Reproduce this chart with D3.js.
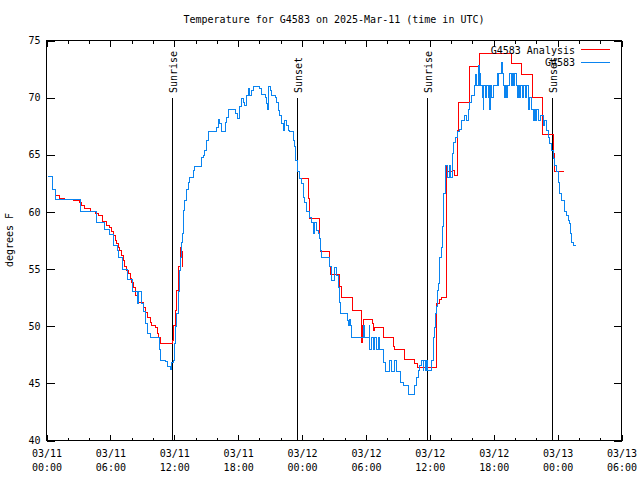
<!DOCTYPE html>
<html><head><meta charset="utf-8">
<script src="https://cdn.jsdelivr.net/npm/d3@7"></script>
<style>
body{margin:0;background:#fff}
svg{display:block}
text{font-family:"DejaVu Sans Mono","Liberation Mono",monospace;font-size:10px;fill:#000}
</style>
</head><body><svg id="c" width="640" height="480"></svg>
<script>
const title = "Temperature for G4583 on 2025-Mar-11 (time in UTC)";
const yLabel = "degrees F";
const seriesNames = ["G4583 Analysis", "G4583"];
const seriesColors = ["#ff0000", "#0a84f0"];
const startTime = "2025-03-11T00:00:00Z";
const endTime = "2025-03-13T06:00:00Z";
const yDomain = [40, 75];
const yTicks = [40, 45, 50, 55, 60, 65, 70, 75];
const sunEvents = [["Sunrise", 11.76], ["Sunset", 23.52], ["Sunrise", 35.76], ["Sunset", 47.49]];

// [hours since start, degrees F]
const observed = [[0.17,63.1],[0.58,62.0],[0.8,61.06],[3.15,60.0],[4.71,59.1],[5.49,58.5],[5.96,58.0],[6.27,57.06],[6.65,56.6],[6.78,56.0],[7.14,55.0],[7.56,54.1],[8.09,53.0],[8.5,52.0],[8.6,53.0],[8.94,52.0],[9.09,51.3],[9.34,50.2],[9.53,49.4],[9.72,49.0],[10.59,48.0],[10.72,47.0],[11.13,46.9],[11.41,46.5],[11.6,46.2],[11.78,46.8],[11.9,47.0],[12.02,48.5],[12.11,50.0],[12.23,51.1],[12.35,53.0],[12.47,54.9],[12.58,56.0],[12.69,57.3],[12.79,58.1],[12.85,59.5],[12.91,60.1],[13.0,61.0],[13.16,62.0],[13.31,62.6],[13.47,63.0],[13.78,63.6],[13.94,64.0],[14.57,64.8],[14.72,64.9],[14.88,65.4],[15.04,66.25],[15.19,67.0],[15.98,67.4],[16.13,68.06],[16.29,67.7],[16.45,67.06],[16.83,67.85],[16.92,68.3],[17.07,69.0],[17.79,68.6],[17.92,68.15],[18.08,68.6],[18.17,69.2],[18.33,69.9],[18.5,69.6],[18.64,69.3],[18.8,70.2],[18.95,70.8],[19.11,70.2],[19.27,70.6],[19.42,71.0],[20.05,70.8],[20.21,70.3],[20.52,70.0],[20.68,69.5],[20.73,69.0],[20.83,71.0],[20.99,70.6],[21.15,70.2],[21.46,70.0],[21.62,69.6],[21.77,68.9],[21.92,68.4],[22.08,67.7],[22.23,67.1],[22.39,68.0],[22.55,67.6],[22.7,67.1],[22.86,67.0],[23.24,66.25],[23.33,65.7],[23.43,64.5],[23.55,63.5],[23.8,62.9],[23.96,62.5],[24.11,61.3],[24.27,60.85],[24.43,60.0],[24.74,59.5],[24.9,59.1],[25.05,58.1],[25.21,59.1],[25.31,58.4],[25.52,58.1],[25.68,57.65],[25.75,56.6],[25.84,56.0],[26.62,55.2],[26.78,54.0],[27.09,55.1],[27.25,54.4],[27.4,53.4],[27.49,52.1],[27.65,51.1],[28.28,50.5],[28.34,50.06],[28.45,50.6],[28.54,50.06],[28.66,49.04],[29.75,50.1],[29.86,49.04],[30.31,50.1],[30.38,48.0],[30.54,49.04],[30.69,48.0],[30.85,49.04],[31.0,48.0],[31.15,49.0],[31.31,48.0],[31.69,46.85],[31.88,46.0],[32.25,47.0],[32.41,46.0],[32.72,47.0],[32.88,46.0],[33.26,45.1],[33.57,44.8],[33.97,44.0],[34.53,44.8],[34.76,45.5],[34.91,46.1],[35.07,46.6],[35.23,47.0],[35.38,46.15],[35.45,47.0],[35.59,46.15],[35.73,47.0],[35.82,46.15],[36.17,47.0],[36.32,48.0],[36.38,49.0],[36.48,49.9],[36.57,51.1],[36.64,51.7],[36.7,53.1],[36.79,53.7],[36.88,56.0],[37.11,56.9],[37.2,58.7],[37.32,61.6],[37.45,63.3],[37.51,64.06],[37.7,63.04],[37.82,64.06],[37.93,63.04],[38.1,65.1],[38.2,65.7],[38.26,66.1],[38.45,66.5],[38.57,67.0],[38.83,67.2],[38.99,68.0],[39.3,68.4],[39.45,68.0],[39.61,69.0],[39.77,69.6],[39.92,70.2],[40.23,71.06],[40.33,72.0],[40.42,71.06],[40.55,72.8],[40.64,71.06],[40.7,72.1],[40.8,71.06],[40.94,70.04],[41.01,69.0],[41.08,71.06],[41.22,70.04],[41.36,71.06],[41.48,70.04],[41.58,71.06],[41.62,69.0],[41.69,71.06],[41.83,70.04],[41.95,71.06],[42.33,72.1],[42.43,71.06],[42.49,72.1],[42.74,73.1],[42.84,72.1],[42.96,71.06],[43.05,70.04],[43.15,71.06],[43.24,70.04],[43.33,71.06],[43.52,72.1],[43.68,71.06],[43.77,72.1],[43.9,71.06],[43.99,72.1],[44.15,71.06],[44.23,70.04],[44.32,71.06],[44.46,70.04],[44.55,71.06],[44.69,70.04],[44.84,71.06],[44.98,70.04],[45.12,71.06],[45.24,69.0],[45.4,70.04],[45.56,69.0],[45.71,68.0],[45.82,69.0],[45.96,68.0],[46.06,69.0],[46.18,68.0],[46.43,68.4],[46.65,67.56],[46.76,68.0],[46.97,67.1],[47.12,66.5],[47.28,66.0],[47.44,65.4],[47.59,64.65],[47.75,64.06],[47.91,63.5],[48.06,62.6],[48.22,61.6],[48.38,61.0],[48.62,60.0],[48.85,59.7],[49.0,59.25],[49.16,58.95],[49.22,58.1],[49.34,57.35],[49.46,57.06],[49.69,57.06]];

// [hours since start, degrees F]; null marks a gap
const analysis = [[0.8,61.4],[1.25,61.2],[1.7,61.1],[2.5,61.0],[3.1,60.8],[3.3,60.6],[3.6,60.3],[4.1,60.0],[4.6,59.9],[4.9,59.7],[5.3,59.2],[5.6,58.8],[5.9,58.6],[6.1,58.3],[6.3,57.9],[6.45,57.5],[6.6,57.2],[6.75,56.9],[6.9,56.6],[7.05,56.2],[7.2,55.75],[7.35,55.2],[7.55,54.9],[7.7,54.6],[7.85,54.2],[8.0,53.8],[8.15,53.4],[8.4,52.7],[8.6,52.1],[9.1,51.6],[9.3,51.2],[9.5,50.8],[9.72,50.35],[9.9,50.1],[10.2,49.9],[10.4,49.4],[10.5,49.04],[10.7,48.5],[11.8,48.75],[11.95,50.06],[12.1,51.4],[12.25,53.1],[12.4,55.2],[12.6,56.9],[12.7,56.5],[12.8,55.2],[12.85,55.2],[12.86,null],
[23.96,62.9],[24.58,61.15],[24.74,59.4],[25.62,57.65],[25.75,56.5],[26.55,55.2],[26.71,54.5],[27.56,53.5],[27.72,52.5],[28.72,51.4],[29.6,48.6],[29.65,50.1],[29.75,50.55],[30.59,50.2],[30.7,49.6],[30.8,49.9],[31.62,49.0],[32.56,48.2],[32.7,48.0],[33.66,47.06],[34.6,46.7],[34.82,46.35],[36.62,49.2],[36.67,52.0],[36.9,52.3],[37.1,52.5],[37.55,58.4],[37.6,64.06],[37.63,63.5],[38.1,63.6],[38.3,63.2],[38.57,67.1],[38.65,69.6],[39.7,72.7],[40.68,73.9],[43.63,73.0],[44.62,72.0],[45.63,70.04],[46.62,66.75],[47.58,65.1],[47.75,63.5],[48.62,63.5]];

const t0 = new Date(startTime);
const toDate = h => new Date(t0.getTime() + h * 3600000);

const svg = d3.select("#c");
const L = 46.5, R = 621.5, T = 40.5, B = 440.5;
const x = d3.scaleUtc().domain([t0, new Date(endTime)]).range([L, R]);
const y = d3.scaleLinear().domain(yDomain).range([B, T]);

svg.append("text").attr("x", 334).attr("y", 23).attr("text-anchor", "middle").text(title);

svg.append("text").attr("transform", "translate(13,240) rotate(-90)")
  .attr("text-anchor", "middle").text(yLabel);

function clean(g){ g.select(".domain").remove(); g.selectAll(".tick line").attr("stroke","#000").attr("shape-rendering","crispEdges"); }

svg.append("g").attr("transform", `translate(${L},0)`)
  .call(d3.axisLeft(y).tickValues(yTicks).tickSizeInner(-8).tickSizeOuter(0).tickPadding(6).tickFormat(d3.format("d")))
  .call(clean)
  .call(g => g.selectAll("text").attr("font-family", "DejaVu Sans Mono").attr("font-size", 10).attr("fill", "#000"));
svg.append("g").attr("transform", `translate(${R},0)`)
  .call(d3.axisRight(y).tickValues(yTicks).tickSizeInner(-8).tickSizeOuter(0).tickFormat(""))
  .call(clean);

svg.append("g").attr("transform", `translate(0,${B})`)
  .call(d3.axisBottom(x).ticks(d3.utcHour.every(2)).tickSizeInner(-3).tickSizeOuter(0).tickFormat(""))
  .call(clean);
svg.append("g").attr("transform", `translate(0,${T})`)
  .call(d3.axisTop(x).ticks(d3.utcHour.every(2)).tickSizeInner(-3).tickSizeOuter(0).tickFormat(""))
  .call(clean);
const fDay = d3.utcFormat("%m/%d"), fTime = d3.utcFormat("%H:%M");
svg.append("g").attr("transform", `translate(0,${B})`)
  .call(d3.axisBottom(x).ticks(d3.utcHour.every(6)).tickSizeInner(-6).tickSizeOuter(0).tickPadding(9).tickFormat(""))
  .call(clean)
  .call(g => g.selectAll(".tick").each(function(d){
    const t = d3.select(this).select("text").attr("font-family","DejaVu Sans Mono").attr("font-size",10).attr("fill","#000").attr("dy", null).attr("y", 16);
    t.append("tspan").attr("x", 0).attr("y", 16).text(fDay(d));
    t.append("tspan").attr("x", 0).attr("y", 30).text(fTime(d));
  }));
svg.append("g").attr("transform", `translate(0,${T})`)
  .call(d3.axisTop(x).ticks(d3.utcHour.every(6)).tickSizeInner(-6).tickSizeOuter(0).tickFormat(""))
  .call(clean);

sunEvents.forEach(([name, h]) => {
  const px = Math.round(x(toDate(h))) + 0.5;
  svg.append("line").attr("x1", px).attr("x2", px).attr("y1", 98).attr("y2", B)
    .attr("stroke", "#000").attr("stroke-width", 1).attr("shape-rendering", "crispEdges");
  svg.append("text").attr("transform", `translate(${px + 4.5},93) rotate(-90)`)
    .attr("text-anchor", "start").text(name);
});

const line = d3.line()
  .defined(d => d[1] != null)
  .x(d => x(toDate(d[0])))
  .y(d => y(d[1]))
  .curve(d3.curveStepAfter);

svg.append("path").datum(analysis).attr("d", line)
  .attr("fill", "none").attr("stroke", seriesColors[0]).attr("stroke-width", 1).attr("shape-rendering", "crispEdges");
svg.append("path").datum(observed).attr("d", line)
  .attr("fill", "none").attr("stroke", seriesColors[1]).attr("stroke-width", 1).attr("shape-rendering", "crispEdges");

[0, 1].forEach(i => {
  const yy = 49.5 + i * 12.5;
  svg.append("text").attr("x", 575).attr("y", yy + 4).attr("text-anchor", "end").text(seriesNames[i]);
  svg.append("line").attr("x1", 581).attr("x2", 610).attr("y1", yy).attr("y2", yy)
    .attr("stroke", seriesColors[i]).attr("stroke-width", 1).attr("shape-rendering", "crispEdges");
});

svg.append("rect").attr("x", L).attr("y", T).attr("width", R - L).attr("height", B - T)
  .attr("fill", "none").attr("stroke", "#000").attr("stroke-width", 1).attr("shape-rendering", "crispEdges");
</script>
</body></html>
